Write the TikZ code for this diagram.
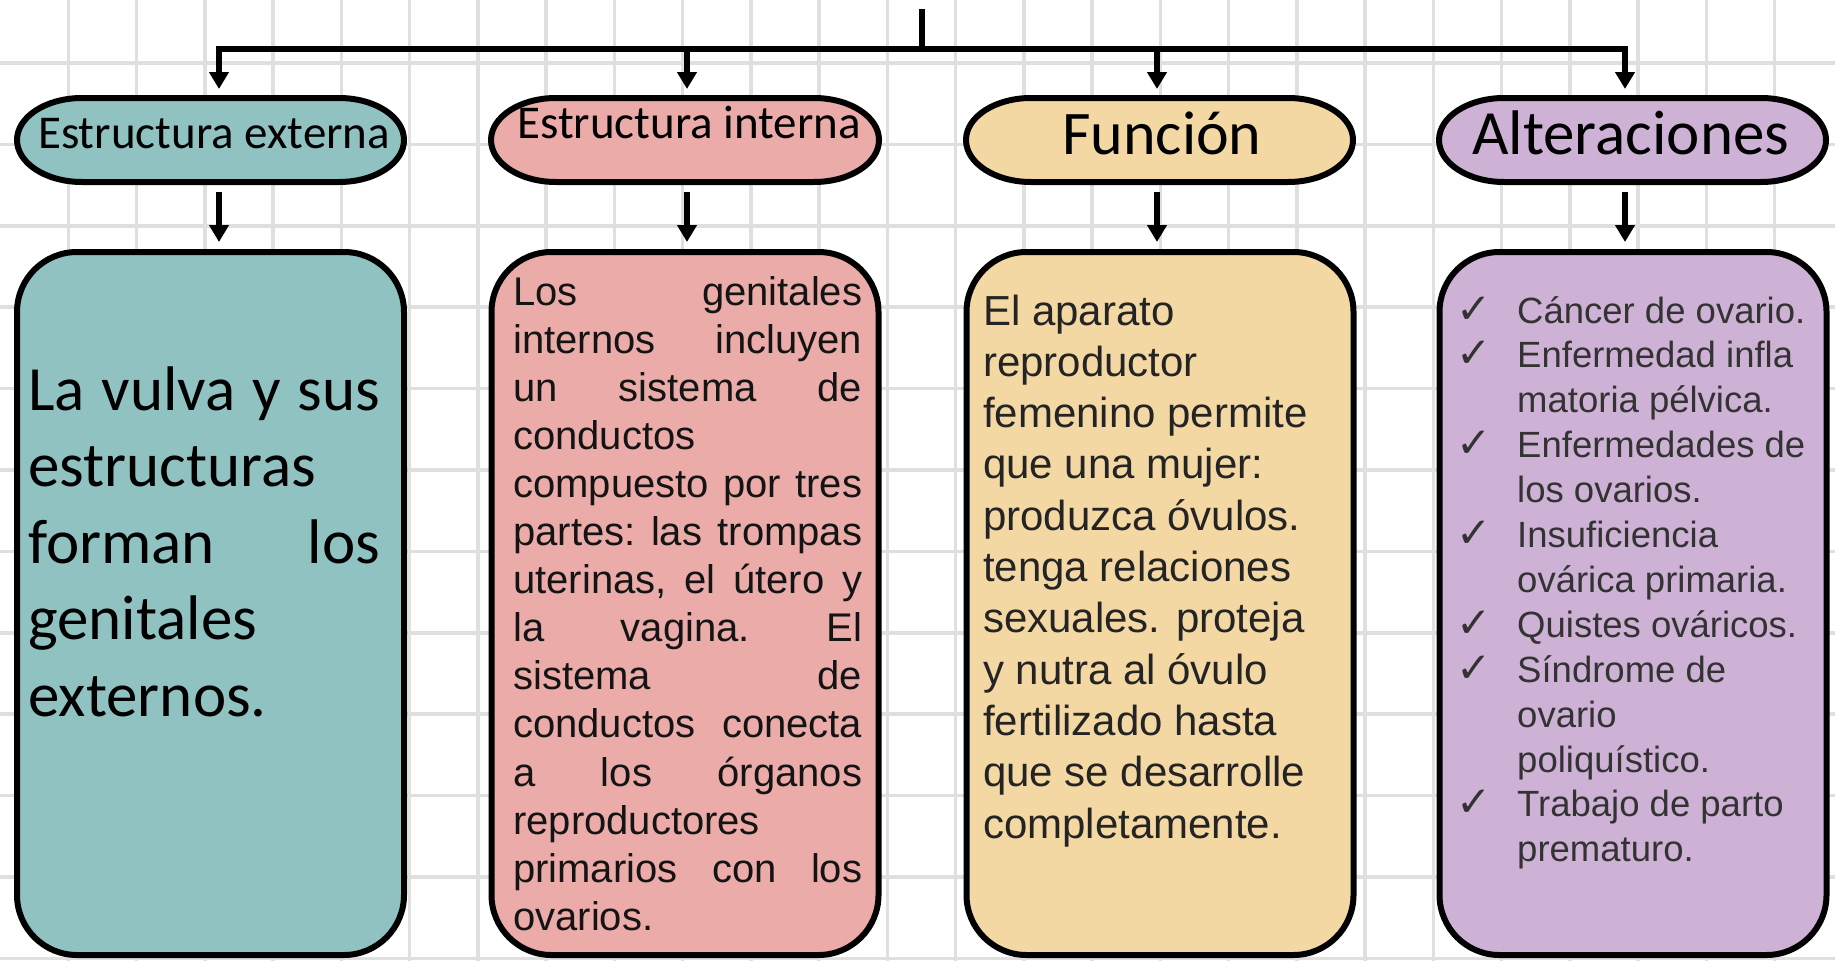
\documentclass[tikz,border=0pt]{standalone}
\usepackage{fontspec}
\usetikzlibrary{arrows.meta}
\newfontfamily\calib{Carlito}
\newfontfamily\arialf{Liberation Sans}
\newfontfamily\dvs{DejaVu Sans}
\definecolor{cteal}{RGB}{143,194,193}
\definecolor{cpink}{RGB}{234,171,169}
\definecolor{ctan}{RGB}{244,216,164}
\definecolor{cpurple}{RGB}{206,178,214}
\definecolor{cgrid}{RGB}{223,223,223}
\newcommand\drawpill[3]{\draw[pillline, fill=#3] ({#1+65},98) -- ({#2-65},98) arc[start angle=-90,end angle=90,x radius=65,y radius=42] -- ({#1+65},182) arc[start angle=90,end angle=270,x radius=65,y radius=42] -- cycle;}
\newcommand\ck{\hbox to 59pt{\dvs\fontsize{42}{48}\selectfont\kern-2pt ✓\hfil}}
\begin{document}
\begin{tikzpicture}[x=1pt,y=-1pt,
  gridline/.style={draw=cgrid,line width=3.5pt},
  conn/.style={draw=black,line width=6pt},
  arr/.style={conn,-{Triangle[width=19pt,length=17pt]}},
  pillline/.style={draw=black,line width=6pt},
  cardbox/.style={draw=black,line width=6pt,rounded corners=60pt,minimum width=387pt,minimum height=703pt,inner sep=0pt},
  pillbox/.style={inner sep=0pt,outer sep=0pt,minimum width=393pt,minimum height=90pt},
  txt/.style={inner sep=0pt,anchor=base west,align=left}]
\useasboundingbox (0,0) rectangle (1835,961);
\fill[white] (0,0) rectangle (1835,961);
% grid
\foreach \k in {1,...,26} \draw[gridline] ({\k*68.25},0) -- ({\k*68.25},961);
\foreach \k in {0,...,11} \draw[gridline] (0,{63+81.4*\k}) -- (1835,{63+81.4*\k});
% pills
\drawpill{17}{404}{cteal}
\drawpill{491}{879}{cpink}
\drawpill{966}{1353}{ctan}
\drawpill{1439}{1826}{cpurple}
\node[pillbox] (p1) at (210.5,140) {};
\node[pillbox] (p2) at (685,140) {};
\node[pillbox] (p3) at (1159.5,140) {};
\node[pillbox] (p4) at (1632.5,140) {};
\node[txt] (t1) at (38,148) {\calib\fontsize{47}{56}\selectfont Estructura externa};
\node[txt] (t2) at (517,138) {\calib\fontsize{47}{56}\selectfont Estructura interna};
\node[txt] (t3) at (1062,154) {\calib\fontsize{62}{74}\selectfont Función};
\node[txt] (t4) at (1472,154) {\calib\fontsize{63}{75}\selectfont Alteraciones};
% boxes
\node[cardbox,fill=cteal] (b1) at (210.5,603.5) {};
\node[cardbox,fill=cpink] (b2) at (685,603.5) {};
\node[cardbox,fill=ctan] (b3) at (1160,603.5) {};
\node[cardbox,fill=cpurple] (b4) at (1633,603.5) {};
% connectors
\coordinate (top) at (922,9);
\coordinate (junc) at (922,48.7);
\draw[conn] (top) -- (junc);
\draw[arr,shorten >=6pt] (junc) -| ([xshift=8.5pt]p1.north);
\draw[arr,shorten >=6pt] (junc) -| ([xshift=2pt]p2.north);
\draw[arr,shorten >=6pt] (junc) -| ([xshift=-2.5pt]p3.north);
\draw[arr,shorten >=6pt] (junc) -| ([xshift=-7.5pt]p4.north);
\draw[arr,shorten <=7pt,shorten >=7pt] ([xshift=8.5pt]p1.south) -- ([xshift=8.5pt]b1.north);
\draw[arr,shorten <=7pt,shorten >=7pt] ([xshift=2pt]p2.south) -- ([xshift=2pt]b2.north);
\draw[arr,shorten <=7pt,shorten >=7pt] ([xshift=-2.5pt]p3.south) -- ([xshift=-3pt]b3.north);
\draw[arr,shorten <=7pt,shorten >=7pt] ([xshift=-7.5pt]p4.south) -- ([xshift=-8pt]b4.north);
% box texts
\node[txt] (x1) at (28,410) {\vtop{\hsize=352pt\calib\fontsize{63}{76.5}\selectfont
\hbox to\hsize{La\hfil vulva\hfil y\hfil sus}
\hbox{estructuras}
\hbox to\hsize{forman\hfil los}
\hbox{genitales}
\hbox{externos.}}};
\node[txt,text=black!92] (x2) at (513,305) {\vtop{\hsize=349pt\arialf\fontsize{40}{48.1}\selectfont
\hbox to\hsize{Los\hfil genitales}
\hbox to\hsize{internos\hfil incluyen}
\hbox to\hsize{un\hfil sistema\hfil de}
\hbox{conductos}
\hbox to\hsize{compuesto\hfil por\hfil tres}
\hbox to\hsize{partes:\hfil las\hfil trompas}
\hbox to\hsize{uterinas,\hfil el\hfil útero\hfil y}
\hbox to\hsize{la\hfil vagina.\hfil El}
\hbox to\hsize{sistema\hfil de}
\hbox to\hsize{conductos\hfil conecta}
\hbox to\hsize{a\hfil los\hfil órganos}
\hbox{reproductores}
\hbox to\hsize{primarios\hfil con\hfil los}
\hbox{ovarios.}}};
\node[txt,text=black!86] (x3) at (983,325) {\vtop{\hsize=340pt\arialf\fontsize{42}{51.3}\selectfont
\hbox{El aparato}
\hbox{reproductor}
\hbox{femenino permite}
\hbox{que una mujer:}
\hbox{produzca óvulos.}
\hbox{tenga relaciones}
\hbox{sexuales. proteja}
\hbox{y nutra al óvulo}
\hbox{fertilizado hasta}
\hbox{que se desarrolle}
\hbox{completamente.}}};
\node[txt,text=black!80] (x4) at (1458,323) {\vtop{\hsize=360pt\arialf\fontsize{36.5}{44.9}\selectfont
\hbox{\ck Cáncer de ovario.}
\hbox{\ck Enfermedad infla}
\hbox{\kern59pt matoria pélvica.}
\hbox{\ck Enfermedades de}
\hbox{\kern59pt los ovarios.}
\hbox{\ck Insuficiencia}
\hbox{\kern59pt ovárica primaria.}
\hbox{\ck Quistes ováricos.}
\hbox{\ck Síndrome de}
\hbox{\kern59pt ovario}
\hbox{\kern59pt poliquístico.}
\hbox{\ck Trabajo de parto}
\hbox{\kern59pt prematuro.}}};
\end{tikzpicture}
\end{document}
